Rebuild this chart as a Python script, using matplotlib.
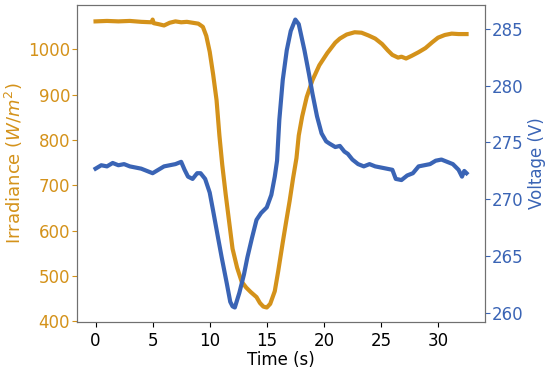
import matplotlib
matplotlib.use("Agg")
import matplotlib.pyplot as plt

# irradiance trace
t_irr = [0, 1, 2, 3, 4, 4.9, 5.0, 5.1, 5.5, 6.0, 6.5, 7, 7.5, 8, 8.5, 9.0, 9.4,
         9.7, 10.0, 10.3, 10.6, 10.85, 11.1, 11.4, 11.75, 12.0, 12.4, 12.8,
         13.2, 13.6, 14.1, 14.4, 14.7, 15.0, 15.3, 15.7, 16.0, 16.4, 16.7,
         17.0, 17.3, 17.6, 17.8, 18.1, 18.5, 19.0, 19.6, 20.3, 21.0, 21.4,
         22.0, 22.7, 23.3, 23.9, 24.5, 25.1, 25.6, 26.0, 26.5, 26.8, 27.2,
         27.7, 28.3, 28.9, 29.5, 30.0, 30.6, 31.2, 31.8, 32.5]
irradiance = [1062, 1063, 1062, 1063, 1061, 1060, 1066, 1058, 1056, 1053, 1059,
              1062, 1060, 1061, 1059, 1057, 1050, 1030, 995, 945, 888, 810,
              745, 680, 610, 560, 518, 487, 474, 464, 453, 440, 432, 430, 438,
              466, 510, 574, 620, 665, 715, 760, 810, 852, 895, 932, 965, 992,
              1015, 1024, 1033, 1038, 1037, 1031, 1024, 1012, 998, 988, 982,
              984, 980, 986, 994, 1003, 1016, 1026, 1032, 1035, 1034, 1034]

# voltage trace
t_volt = [0, 0.5, 1, 1.5, 2, 2.5, 3, 3.5, 4, 4.5, 5, 5.5, 6, 6.5, 7, 7.5, 7.8,
          8.1, 8.5, 8.9, 9.2, 9.6, 10.0, 10.3, 10.7, 11.05, 11.5, 11.8, 12.0,
          12.2, 12.6, 13.0, 13.3, 13.7, 14.1, 14.5, 15.0, 15.4, 15.7, 15.9,
          16.1, 16.4, 16.75, 17.1, 17.5, 17.8, 18.3, 18.7, 19.0, 19.4, 19.8,
          20.2, 20.5, 21.0, 21.4, 21.8, 22.1, 22.5, 23.0, 23.5, 24, 24.5, 25,
          25.5, 26, 26.3, 26.8, 27.3, 27.8, 28.3, 28.8, 29.3, 29.8, 30.3, 30.8,
          31.3, 31.8, 32.1, 32.3, 32.5]
voltage = [272.7, 273.0, 272.9, 273.2, 273.0, 273.1, 272.9, 272.8, 272.7, 272.5,
           272.3, 272.6, 272.9, 273.0, 273.1, 273.3, 272.6, 272.0, 271.8, 272.3,
           272.3, 271.8, 270.6, 269.0, 266.8, 264.9, 262.6, 261.0, 260.6, 260.5,
           261.8, 263.4, 264.9, 266.6, 268.2, 268.8, 269.3, 270.4, 272.0, 273.4,
           277.0, 280.5, 283.1, 284.8, 285.8, 285.4, 283.1, 281.0, 279.3, 277.3,
           275.8, 275.1, 274.9, 274.6, 274.7, 274.2, 274.0, 273.5, 273.1, 272.9,
           273.1, 272.9, 272.8, 272.7, 272.6, 271.8, 271.7, 272.1, 272.3, 272.9,
           273.0, 273.1, 273.4, 273.5, 273.3, 273.1, 272.6, 272.0, 272.5, 272.3]

orange = "#d4921a"
blue = "#3a64b5"

fig, ax = plt.subplots(figsize=(5.5, 3.7), dpi=100)
plt.subplots_adjust(left=0.14, right=0.882, bottom=0.13, top=0.986)

ax.plot(t_irr, irradiance, color=orange, lw=3)
ax.set_xlabel("Time (s)", fontsize=12, labelpad=1)
ax.set_ylabel("Irradiance ($W/m^2$)", color=orange, fontsize=13, labelpad=2)
ax.tick_params(axis="y", colors=orange, labelsize=12, pad=1.5)
ax.tick_params(axis="x", labelsize=12)
ax.set_xticks([0, 5, 10, 15, 20, 25, 30])

ax2 = ax.twinx()
ax2.plot(t_volt, voltage, color=blue, lw=3)
ax2.set_ylabel("Voltage (V)", color=blue, fontsize=12, labelpad=3)
ax2.tick_params(axis="y", colors=blue, labelsize=12, pad=1.5)

for a in (ax, ax2):
    for s in a.spines.values():
        s.set_color("#707070")

fig.savefig("out.png")
